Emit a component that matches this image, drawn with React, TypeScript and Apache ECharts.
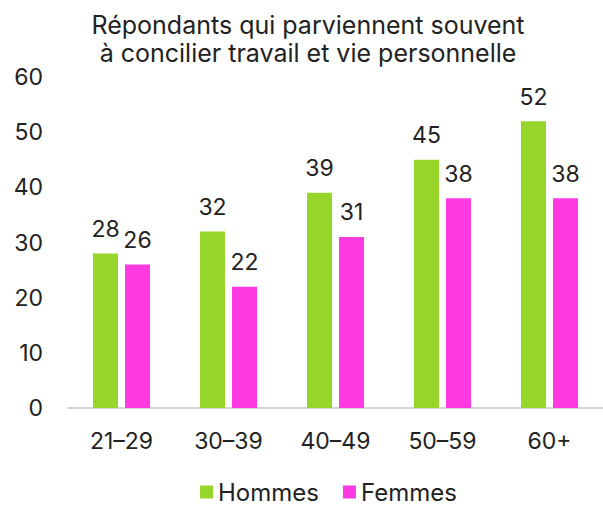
import React, { useEffect, useRef } from "react";
import * as echarts from "echarts";

const categories = ["21–29", "30–39", "40–49", "50–59", "60+"];
const hommes = [28, 32, 39, 45, 52];
const femmes = [26, 22, 31, 38, 38];
const titleText = "Répondants qui parviennent souvent\nà concilier travail et vie personnelle";

export default function App() {
  const ref = useRef<HTMLDivElement>(null);
  useEffect(() => {
    const chart = echarts.init(ref.current!, null, { renderer: "svg" });
    const font = "Inter, Roboto, sans-serif";
    const labelStyle = {
      show: true,
      position: "top" as const,
      distance: 13,
      fontSize: 23,
      color: "#222",
      fontFamily: font,
    };
    chart.setOption({
      animation: false,
      title: {
        text: titleText,
        left: 303,
        textAlign: "center",
        top: 6,
        textStyle: { fontSize: 25, fontWeight: "normal", color: "#222", lineHeight: 28, fontFamily: font },
      },
      legend: {
        top: 476,
        left: 196,
        padding: 4,
        itemWidth: 13,
        itemHeight: 13,
        itemGap: 24,
        icon: "rect",
        textStyle: { fontSize: 24, color: "#222", fontFamily: font, lineHeight: 24 },
        data: ["Hommes", "Femmes"],
      },
      grid: { left: 68, top: 77, width: 549, height: 331, containLabel: false },
      xAxis: {
        type: "category",
        data: categories,
        axisLine: { lineStyle: { color: "#d4d4d4", width: 2 } },
        axisTick: { show: false },
        axisLabel: { fontSize: 23, color: "#222", margin: 21, fontFamily: font },
      },
      yAxis: {
        type: "value",
        min: 0,
        max: 60,
        interval: 10,
        splitLine: { show: false },
        axisLine: { show: false },
        axisTick: { show: false },
        axisLabel: { fontSize: 23, color: "#222", margin: 25, fontFamily: font },
      },
      series: [
        {
          name: "Hommes",
          type: "bar",
          data: hommes,
          barWidth: 25,
          barGap: "28%",
          itemStyle: { color: "#97d52a" },
          label: labelStyle,
        },
        {
          name: "Femmes",
          type: "bar",
          data: femmes,
          barWidth: 25,
          itemStyle: { color: "#ff3ae0" },
          label: labelStyle,
        },
      ],
    });
    return () => chart.dispose();
  }, []);
  return <div ref={ref} style={{ width: 603, height: 508, position: "absolute", left: 0, top: 0 }} />;
}
